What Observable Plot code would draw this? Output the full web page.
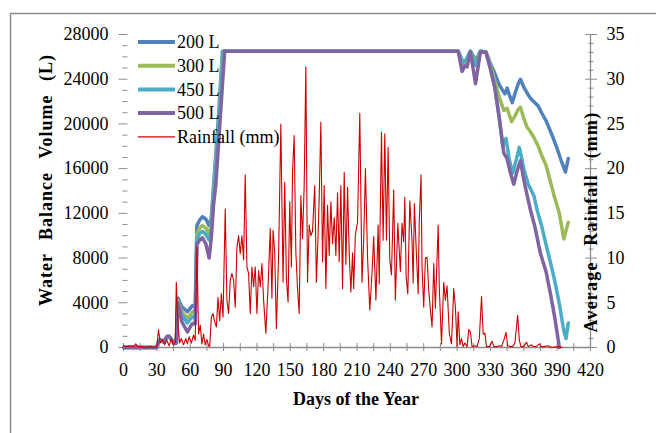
<!DOCTYPE html>
<html><head><meta charset="utf-8">
<script src="https://cdn.jsdelivr.net/npm/d3@7"></script>
<script src="https://cdn.jsdelivr.net/npm/@observablehq/plot@0.6"></script>
<style>body{margin:0;background:#fff}</style>
</head><body><div id="chart"></div>
<script>
// ---- data ----
const seriesNames = ["200 L", "300 L", "450 L", "500 L"];
const seriesColors = ["#4F81BD", "#9BBB59", "#4BACC6", "#8064A2"];
const rainColor = "#cc0000";

const days200 = [0,30,31.5,33,36,39,41,43.5,45.5,47.5,49,52.5,57.5,62,64.5,66,68.5,71,74,77,79,81,85,89,301,305,308,312,317,321,326,330,334,338,341,343,345,347,349.6,352,355,357,360,364,366,370,373,376,380,385,390,394,397.5,400];
const vol200  = [0,0,500,700,500,900,1000,650,350,400,4400,3650,3200,3750,3600,10900,11400,11700,11500,10900,11600,14500,20000,26500,26500,25600,25700,26500,25700,26500,26450,25400,24500,23500,23000,22700,23200,22600,21900,22700,23600,24000,23300,22600,22300,21900,21600,21000,20300,19100,17800,16600,15700,16900];

const days300 = [0,30,31.5,33,36,39,41,43.5,45.5,47.5,49,52.5,57.5,62,64.5,66,68.5,71,74,77,79,81,85,89,90,301,305,308,312,317,321,326,330,334,338,342,345,349,352,355,357,360,363,366,369,373,376,380,384,388,392,396,400];
const vol300  = [0,0,500,700,500,900,1000,650,350,400,4200,3200,2600,3200,3100,10100,10700,10900,10700,10100,11000,13800,19300,26000,26500,26500,25300,25600,26500,25500,26500,26400,25300,23800,22400,21200,21400,20200,20700,21300,21500,20500,19700,19300,18800,18000,17200,16300,14800,13300,12000,9700,11200];

const days450 = [0,30,31.5,33,36,39,41,43.5,45.5,47.5,49,52.5,57.5,62,64.5,66,68.5,71,74,77,79,81,85,89,90,301,305,308,312,317,321,326,330,334,338,341,344,347,350,353,356,360,364,369,372,376,380,384,388,392,396,398,400];
const vol450  = [0,0,500,700,500,900,1000,650,350,400,4100,2900,2200,2750,2700,9600,10200,10400,10100,9600,10500,13500,19000,25500,26500,26500,25500,25700,26500,25200,26500,26400,25000,23300,20500,18000,18700,16800,15600,16700,17900,16000,14600,13600,12300,10900,9200,7600,5900,3900,1500,800,2200];

const days500 = [0,30,31.5,33,36,39,41,43.5,45.5,47.5,49,52.5,57.5,62,64.5,66,68.5,71,74,77,79,81,83,87,91,301,304.5,307,309,312,316.6,321,326,330,334,338,342,345,348,351,354,357,360,363,366,370,375,380,384,388,392];
const vol500  = [0,0,500,700,500,1000,1000,650,350,400,3950,2300,1400,2150,2100,9200,9600,9800,9300,8000,9800,12800,14500,20500,26500,26500,24700,25200,25100,26450,23600,26450,26400,24900,23200,20500,17400,16900,15600,14600,15800,16700,15000,13600,12300,10800,8400,6800,4800,2600,0];

const rainDay = [0,3,6,9,11,13,17,20,24,27,30,31.5,33,35,37,39,41,43,45,46.5,47.5,49,50.5,52,54,56,57.5,59,61,63,64.5,66,67.5,69,70.5,72,73.5,75,76.5,77.5,79,80.5,82,83.5,85,86.5,88,89.5,91.5,93,94.5,96,97.5,99,100.5,102,103.5,105,106.5,108,109.5,111,112.5,114,115.5,117,118.5,120,121.5,123,124.5,126,128,130,132,133.5,134.5,136,137.5,139.5,141.5,143.5,145,146.5,148,149.5,151,152,153.5,155,156.5,158,159.5,161,162.5,164,165.5,167,168.5,170,172,173.5,175,176,177.5,179,180.5,182,183.5,185,186.5,188,189.5,191,192.5,194,195.5,197,198.5,200,201.5,203,204.5,206,207,208.5,210.5,212.5,214.5,216,217.6,219.5,221.5,223.5,225,227,229,230,232,233.5,235,236.5,238,239.5,241,243,244.5,246.7,249,250.5,252,253,254.2,255.7,257.5,259.5,260.5,261.6,263.4,265,266,267.6,268.5,270,271.5,273,274.5,276,277.5,279,280.5,283,284,286,288,289.5,291,293,295,297,298.5,300,301,302.5,304,305.5,307,309,310.5,312,313.5,316,318,320,322,323.5,325,326.5,329,331.5,333,336,338,340,342.5,344,345.5,348,350,352,354.5,356,357.5,360,362.5,364,367,368.5,371,374,375.5,378,382,385,390,395];
const rainMm  = [0.2,0.1,0.2,0.1,0.4,0.1,0.1,0,0.1,0,0.1,2.0,0.5,0.9,0.3,0.8,0.2,1.0,0.3,0.6,7.3,2.5,0.5,1.0,0.3,1.0,0.4,1.2,0.5,1.4,0.8,11.2,1.5,2.5,0.4,1.5,0.3,0.9,0.2,0.1,3.4,3.8,2.9,2.3,5.6,3.0,6.0,3.4,15.5,5.3,3.8,7.5,8.3,7.5,4.5,11.2,12.5,10.5,12.5,9.8,19.3,9.0,8.3,3.8,9.0,6.8,9.0,3.8,8.6,6.8,9.4,5.3,1.6,6.8,13.3,5.5,13.1,10.7,2.1,10.3,25.0,7.3,18.5,7.7,5.1,16.3,9.0,19.6,23.7,10.7,6.6,3.8,17.0,12.2,18.1,31.4,7.3,13.7,12.5,13.0,18.1,7.3,12.6,16.7,25.2,9.6,18.1,6.6,15.9,10.3,16.3,11.6,14.5,10.3,17.3,9.6,18.1,6.6,19.6,9.3,17.9,10.5,6.2,10.6,6.6,12.6,14.0,26.2,7.3,12.0,20.0,10.0,4.2,8.3,12.4,5.3,13.7,7.1,24.1,12.0,23.9,12.0,22.4,9.8,8.1,17.6,5.3,13.9,8.5,13.9,11.8,16.8,7.9,6.0,16.4,11.9,7.2,16.1,10.5,6.0,14.2,19.3,9.0,4.5,10.0,10.1,6.4,4.2,2.3,9.4,4.4,13.7,6.7,0.4,7.3,5.3,6.9,1.6,0.4,6.6,4.5,0.1,4.0,0.3,1.0,0.1,0.5,0.1,2.0,1.7,0.1,0.2,0.1,1.0,5.7,1.5,1.6,0.1,0.1,0.7,0.1,0.1,0.2,0.1,1.0,1.7,0.2,0.1,0.1,0.5,3.6,0.8,0.1,0.1,0.6,0.1,0.3,0.1,0.1,0.4,0.1,0.1,0.2,0,0.1,0];

const volTicks = [0,4000,8000,12000,16000,20000,24000,28000];
const rainTicks = [0,5,10,15,20,25,30,35];
const dayTicks = [0,30,60,90,120,150,180,210,240,270,300,330,360,390,420];

// ---- build tables ----
const volDays = [days200, days300, days450, days500];
const volVals = [vol200, vol300, vol450, vol500];
const volRows = [];
seriesNames.forEach((s, i) => volDays[i].forEach((d, j) => volRows.push({series: s, day: d, vol: volVals[i][j]})));
const rainRows = rainDay.map((d, i) => ({day: d, mm: rainMm[i]}));

const volMax = 28000, rainMax = 35, k = volMax / rainMax; // right axis shares the y scale
const minorVol = d3.range(0, 28001, 1000).filter(v => !volTicks.includes(v));
const minorRain = d3.range(0, 36, 1).filter(v => !rainTicks.includes(v)).map(v => v * k);
const dayMinor = d3.range(0, 421, 15);

const chart = Plot.plot({
  width: 656, height: 433,
  marginLeft: 123, marginRight: 66, marginTop: 34, marginBottom: 86,
  x: {domain: [0, 420]},
  y: {domain: [0, volMax]},
  color: {domain: seriesNames, range: seriesColors},
  style: {fontFamily: "Liberation Serif", fontSize: "18px", background: "#fff", color: "#000"},
  marks: [
    Plot.ruleY([0], {stroke: "#8c8c8c", strokeWidth: 1.3}),
    Plot.ruleX([420], {stroke: "#8c8c8c", strokeWidth: 1.3}),
    Plot.axisY({ticks: volTicks, tickSize: 9, dx: 4.5, tickPadding: 10.5, stroke: "#8c8c8c", tickFormat: d => String(d), label: null, fill: "#000"}),
    Plot.axisY({ticks: minorVol, tickSize: 5, dx: 4.5, text: null, stroke: "#8c8c8c", label: null}),
    Plot.axisY({anchor: "right", ticks: rainTicks.map(v => v * k), tickSize: 12, dx: -6, tickPadding: 10, stroke: "#8c8c8c", tickFormat: d => String(Math.round(d / k)), label: null, fill: "#000"}),
    Plot.axisY({anchor: "right", ticks: minorRain, tickSize: 5, dx: -2.5, text: null, stroke: "#8c8c8c", label: null}),
    Plot.axisX({ticks: dayMinor, tickSize: 8, dy: -4, text: null, stroke: "#8c8c8c", label: null}),
    Plot.axisX({ticks: dayTicks, tickSize: 0, tickPadding: 16, tickFormat: d => String(d), label: null, fill: "#000"}),
    Plot.line(volRows, {x: "day", y: "vol", z: "series", stroke: "series", strokeWidth: 3.5, strokeLinejoin: "round"}),
    Plot.line(rainRows, {x: "day", y: d => d.mm * k, stroke: rainColor, strokeWidth: 1.1})
  ]
});
document.getElementById("chart").appendChild(chart);

// ---- frame, titles, legend ----
const svg = d3.select(chart);
svg.insert("rect", ":first-child").attr("x", 10.5).attr("y", 13.5).attr("width", 700).attr("height", 600)
  .attr("fill", "none").attr("stroke", "#8c8c8c").attr("stroke-width", 1.5);
const tfont = "Liberation Serif";
svg.append("text").attr("transform", "translate(52,180) rotate(-90)").attr("text-anchor", "middle")
  .attr("font-family", tfont).attr("font-weight", "bold").attr("font-size", 18).attr("fill", "#000")
  .attr("letter-spacing", "1px").attr("word-spacing", "8px")
  .text("Water Balance Volume (L)");
svg.append("text").attr("transform", "translate(597,222) rotate(-90)").attr("text-anchor", "middle")
  .attr("font-family", tfont).attr("font-weight", "bold").attr("font-size", 18).attr("fill", "#000")
  .attr("letter-spacing", "1.2px").attr("word-spacing", "10px")
  .text("Average Rainfall (mm)");
svg.append("text").attr("x", 356).attr("y", 405).attr("text-anchor", "middle")
  .attr("font-family", tfont).attr("font-weight", "bold").attr("font-size", 18).attr("fill", "#000")
  .text("Days of the Year");
const legItems = seriesNames.map((s, i) => ({label: s, color: seriesColors[i], w: 4}))
  .concat([{label: "Rainfall (mm)", color: rainColor, w: 1.2}]);
const lg = svg.append("g").attr("text-anchor", "start");
legItems.forEach((it, i) => {
  const y = 42 + i * 23.7;
  lg.append("line").attr("x1", 138).attr("x2", 175).attr("y1", y).attr("y2", y)
    .attr("stroke", it.color).attr("stroke-width", it.w);
  lg.append("text").attr("x", 177).attr("y", y).attr("dy", "0.35em").attr("text-anchor", "start")
    .attr("font-family", tfont).attr("font-size", 18).attr("fill", "#000").text(it.label);
});
</script></body></html>
